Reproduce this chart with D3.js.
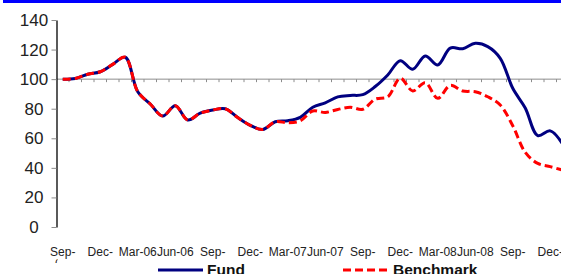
<!DOCTYPE html>
<html>
<head>
<meta charset="utf-8">
<script src="https://cdn.jsdelivr.net/npm/d3@7"></script>
<style>
body { margin: 0; background: #fff; }
svg { display: block; font-family: "Liberation Sans", Arial, sans-serif; }
</style>
</head>
<body>
<svg id="chart" width="561" height="274"></svg>
<script>
// monthly index values, rebased to 100 at Sep-05
var months = ["Sep-05","Oct-05","Nov-05","Dec-05","Jan-06","Feb-06","Mar-06","Apr-06","May-06","Jun-06",
              "Jul-06","Aug-06","Sep-06","Oct-06","Nov-06","Dec-06","Jan-07","Feb-07","Mar-07","Apr-07",
              "May-07","Jun-07","Jul-07","Aug-07","Sep-07","Oct-07","Nov-07","Dec-07","Jan-08","Feb-08",
              "Mar-08","Apr-08","May-08","Jun-08","Jul-08","Aug-08","Sep-08","Oct-08","Nov-08","Dec-08","Jan-09"];

var fund = [100, 100.5, 103.3, 105, 110, 114.8, 91.5, 83.2, 75, 82,
            72.4, 77, 79.1, 80, 74, 68.8, 66, 71.2, 71.9, 74.2,
            81, 84, 88, 89, 89.5, 95, 102.8, 112.5, 106.7, 115.7,
            109.6, 121, 120.6, 124.2, 122, 114.1, 93.8, 80.5, 61.8, 65, 56];

var bench = [100, 100.5, 103.3, 105, 110, 114.8, 91.5, 83.2, 75, 82,
             72.4, 77, 79.1, 80, 74, 68.8, 66, 71.2, 70.5, 71.8,
             78.5, 77.5, 79.5, 81, 79.6, 86.5, 88, 100.6, 92, 97.6,
             87, 95.8, 92, 91.5, 88.1, 82.5, 68.5, 50.5, 43, 40.8, 38.5];

var yTicks = [0, 20, 40, 60, 80, 100, 120, 140];

var xTickMonths = ["Sep-05","Dec-05","Mar-06","Jun-06","Sep-06","Dec-06","Mar-07",
                   "Jun-07","Sep-07","Dec-07","Mar-08","Jun-08","Sep-08","Dec-08"];
var xTickLabels = ["Sep-","Dec-","Mar-06","Jun-06","Sep-","Dec-","Mar-07",
                   "Jun-07","Sep-","Dec-","Mar-08","Jun-08","Sep-","Dec-"];

var svg = d3.select("#chart");
var W = 561;
var left = 56.5, bandW = 12.5;

var x = d3.scaleBand().domain(months).range([left, left + months.length * bandW]);
var y = d3.scaleLinear().domain([0, 140]).range([227, 20]);
var cx = function (m) { return x(m) + x.bandwidth() / 2; };

// blue strip along the top
svg.append("rect")
    .attr("x", 3).attr("y", 0)
    .attr("width", W - 3).attr("height", 3)
    .attr("fill", "#0000ff");

// category axis crossing at 100
var base = svg.append("g").attr("class", "base");
base.append("line")
    .attr("x1", left).attr("x2", W)
    .attr("y1", y(100)).attr("y2", y(100))
    .attr("stroke", "#8c8c8c").attr("stroke-width", 1);
base.selectAll("line.tk")
    .data(months.slice(1))
    .enter().append("line")
    .attr("class", "tk")
    .attr("x1", function (d) { return x(d); })
    .attr("x2", function (d) { return x(d); })
    .attr("y1", y(100)).attr("y2", y(100) + 3)
    .attr("stroke", "#8c8c8c").attr("stroke-width", 1);

// value axis
var yAxis = svg.append("g")
    .attr("transform", "translate(" + left + ",0)")
    .call(d3.axisLeft(y).tickValues(yTicks).tickSize(5).tickSizeOuter(0));
yAxis.select(".domain").attr("stroke", "#000").attr("stroke-width", 1.3);
yAxis.selectAll(".tick line").attr("stroke", "#8c8c8c");
yAxis.selectAll(".tick text")
    .attr("x", 34 - left)
    .attr("text-anchor", "middle")
    .attr("font-size", 17)
    .attr("font-family", "Liberation Sans, Arial, sans-serif")
    .attr("fill", "#222");

// category labels
var labelMap = {};
xTickMonths.forEach(function (m, i) { labelMap[m] = xTickLabels[i]; });
var xAxis = svg.append("g")
    .attr("transform", "translate(0,243)")
    .call(d3.axisBottom(x).tickValues(xTickMonths).tickSize(0)
          .tickFormat(function (d) { return labelMap[d]; }));
xAxis.select(".domain").remove();
xAxis.selectAll(".tick text")
    .attr("y", 12.5).attr("dy", 0)
    .attr("font-size", 12)
    .attr("font-family", "Liberation Sans, Arial, sans-serif")
    .attr("fill", "#222");

// clipped second line of the first wrapped label
svg.append("clipPath").attr("id", "wrapClip")
    .append("rect").attr("x", 50).attr("y", 257).attr("width", 7.5).attr("height", 6);
svg.append("text")
    .attr("x", cx(months[0]) - 1).attr("y", 268)
    .attr("text-anchor", "middle")
    .attr("font-size", 12).attr("fill", "#222")
    .attr("clip-path", "url(#wrapClip)")
    .text("05");

// series
var line = d3.line()
    .x(function (d, i) { return cx(months[i]); })
    .y(function (d) { return y(d); })
    .curve(d3.curveCatmullRom);

svg.append("path")
    .datum(fund)
    .attr("d", line)
    .attr("fill", "none")
    .attr("stroke", "#000080")
    .attr("stroke-width", 3)
    .attr("stroke-linejoin", "round");

svg.append("path")
    .datum(bench)
    .attr("d", line)
    .attr("fill", "none")
    .attr("stroke", "#ff0000")
    .attr("stroke-width", 3)
    .attr("stroke-dasharray", "8,4");

// legend (cut off by the bottom edge)
var legend = svg.append("g");
legend.append("line")
    .attr("x1", 158).attr("x2", 203).attr("y1", 270).attr("y2", 270)
    .attr("stroke", "#000080").attr("stroke-width", 3);
legend.append("text")
    .attr("x", 207).attr("y", 275)
    .attr("font-size", 15.5).attr("font-weight", "bold").attr("fill", "#111")
    .text("Fund");
legend.append("line")
    .attr("x1", 343).attr("x2", 387).attr("y1", 270).attr("y2", 270)
    .attr("stroke", "#ff0000").attr("stroke-width", 3)
    .attr("stroke-dasharray", "8,4");
legend.append("text")
    .attr("x", 393).attr("y", 275)
    .attr("font-size", 15.5).attr("font-weight", "bold").attr("fill", "#111")
    .text("Benchmark");
</script>
</body>
</html>
